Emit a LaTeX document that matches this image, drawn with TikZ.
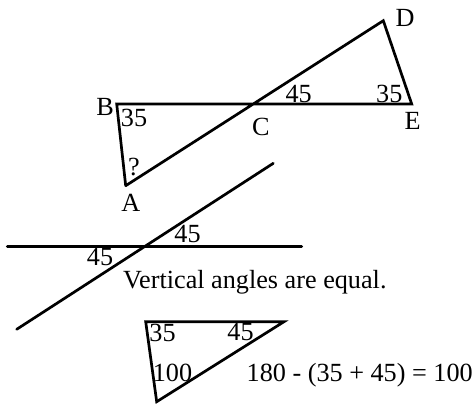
\documentclass[tikz,border=0pt]{standalone}
\usepackage{fontspec}
\setmainfont{Liberation Serif}
\begin{document}
\begin{tikzpicture}[x=1pt,y=-1pt,
  seg/.style={line width=2.7pt,line cap=round,line join=miter},
  lbl/.style={inner sep=0pt,font=\fontsize{26.2}{28}\selectfont}]
\useasboundingbox (0,0) rectangle (476,404);
% top figure
\coordinate (B) at (116.7,104);
\coordinate (E) at (411.7,104);
\coordinate (D) at (383.3,20.7);
\coordinate (A) at (125.7,185.7);
\coordinate (C) at (253.3,104);
\draw[seg] (A) -- (B) -- (E) -- (D) -- (A);
\node[lbl] (lB) at (105,106.7) {B};
\node[lbl] (lD) at (405,18) {D};
\node[lbl] (lE) at (412.5,120.8) {E};
\node[lbl] (lC) at (260.8,126.7) {C};
\node[lbl] (lA) at (130.8,203) {A};
\node[lbl] (a1) at (134,118.3) {35};
\node[lbl] (a2) at (134,166.7) {?};
\node[lbl] (a3) at (298.7,94) {45};
\node[lbl] (a4) at (389.3,94) {35};
% vertical angles
\coordinate (P1) at (273.3,163.3);
\coordinate (P2) at (16.7,329.3);
\coordinate (H1) at (7.3,246.7);
\coordinate (H2) at (301.7,246.7);
\draw[seg] (P1) -- (P2);
\draw[seg] (H1) -- (H2);
\node[lbl] (v1) at (187.5,234) {45};
\node[lbl] (v2) at (100,257.5) {45};
\node[lbl,anchor=base west] (txt) at (123,288.7) {Vertical angles are equal.};
% small triangle
\coordinate (T1) at (145.7,321.7);
\coordinate (T2) at (284,321.7);
\coordinate (T3) at (156.7,401.7);
\draw[seg] (T1) -- (T2) -- (T3) -- cycle;
\node[lbl] (t1) at (162.5,332.5) {35};
\node[lbl] (t2) at (240.5,332.5) {45};
\node[lbl] (t3) at (172.5,373) {100};
\node[lbl,anchor=base west] (eq) at (246.5,381) {180 - (35 + 45) = 100};
\end{tikzpicture}
\end{document}
